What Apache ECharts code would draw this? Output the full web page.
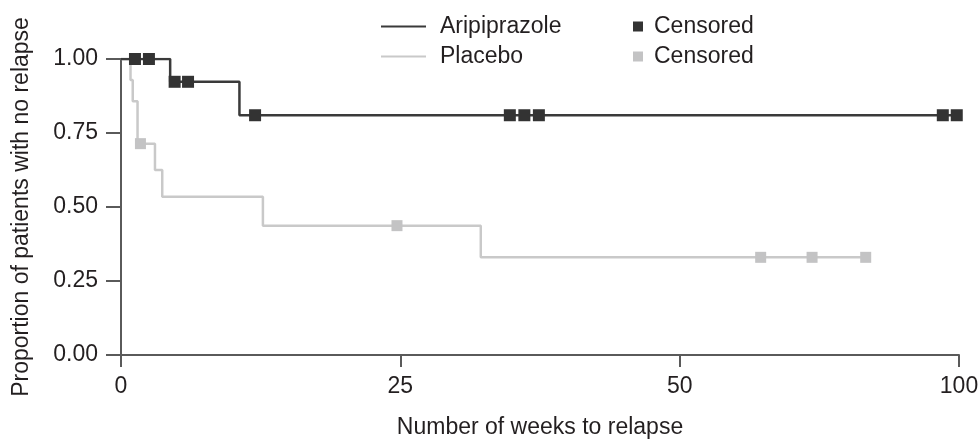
<!DOCTYPE html>
<html>
<head>
<meta charset="utf-8">
<script src="https://cdn.jsdelivr.net/npm/echarts@6/dist/echarts.min.js"></script>
<style>
  html, body { margin: 0; padding: 0; background: #fff; }
  #chart { width: 978px; height: 439px; }
</style>
</head>
<body>
<div id="chart"></div>
<script>
// Kaplan-Meier steps, time in weeks
var ariTimes = [0, 4.4, 10.6, 100];
var ariSurv = [1, 0.923, 0.81, 0.81];
var ariCensTimes = [1.25, 2.5, 4.8, 6.0, 12.0, 34.8, 36.1, 37.4, 97.1, 99.6];
var ariCensSurv = [1, 1, 0.923, 0.923, 0.81, 0.81, 0.81, 0.81, 0.81, 0.81];

var plaTimes = [0, 0.85, 1.05, 1.48, 3.04, 3.69, 12.7, 32.2, 83.3];
var plaSurv = [1, 0.929, 0.857, 0.714, 0.625, 0.535, 0.437, 0.33, 0.33];
var plaCensTimes = [1.74, 24.7, 64.5, 73.7, 83.3];
var plaCensSurv = [0.714, 0.437, 0.33, 0.33, 0.33];

var xTickLabels = ['0', '25', '50', '100'];
var yTickLabels = ['0.00', '0.25', '0.50', '0.75', '1.00'];

// the printed axis is compressed after week 50 (50 -> 100 takes the same room as 25 -> 50)
function toAxis(w) {
    return w <= 50 ? w : 50 + (w - 50) / 2;
}

function pairs(aX, aY) {
    var aRes = [];
    for (var i = 0; i < aX.length; i++) {
        aRes.push([toAxis(aX[i]), aY[i]]);
    }
    return aRes;
}

var sFont = '"Liberation Sans", Arial, Helvetica, sans-serif';
var nFont = 23;
var sText = '#231f20';
var sAxis = '#5a5a5a';
var sDark = '#3a3a3a';
var sLight = '#c9c9c9';

var oChart = echarts.init(document.getElementById('chart'), null, {renderer: 'canvas'});
oChart.setOption({
    animation: false,
    textStyle: {fontFamily: sFont},
    grid: {left: 121, right: 19, top: 59, bottom: 84, containLabel: false, outerBoundsMode: 'none'},
    legend: [
        {
            orient: 'vertical',
            left: 376,
            top: 10,
            itemWidth: 45,
            itemHeight: 14,
            itemGap: 7,
            textStyle: {fontSize: nFont, color: sText, fontFamily: sFont, lineHeight: 23, padding: [0, 0, 0, 9]},
            data: [
                {name: 'Aripiprazole', icon: 'path://M0,6 L45,6 L45,8 L0,8 Z', itemStyle: {color: sDark}},
                {name: 'Placebo', icon: 'path://M0,6 L45,6 L45,8 L0,8 Z', itemStyle: {color: sLight}}
            ]
        },
        {
            orient: 'vertical',
            left: 628,
            top: 10,
            itemWidth: 10,
            itemHeight: 10,
            itemGap: 7,
            formatter: function () { return 'Censored'; },
            textStyle: {fontSize: nFont, color: sText, fontFamily: sFont, lineHeight: 23, padding: [0, 0, 0, 6]},
            data: [
                {name: 'Aripiprazole censored', icon: 'rect'},
                {name: 'Placebo censored', icon: 'rect'}
            ]
        }
    ],
    xAxis: {
        type: 'value',
        min: 0,
        max: 75,
        interval: 25,
        name: 'Number of weeks to relapse',
        nameLocation: 'middle',
        nameGap: 61,
        nameTextStyle: {fontSize: nFont, color: sText, fontFamily: sFont},
        axisLine: {show: true, onZero: false, lineStyle: {color: sAxis, width: 2}},
        axisTick: {show: true, length: 12, lineStyle: {color: sAxis, width: 2}},
        axisLabel: {
            fontSize: nFont, color: sText, margin: 20, fontFamily: sFont,
            formatter: function (v) { return xTickLabels[Math.round(v / 25)]; }
        },
        splitLine: {show: false}
    },
    yAxis: {
        type: 'value',
        min: 0,
        max: 1,
        interval: 0.25,
        name: 'Proportion of patients with no relapse',
        nameLocation: 'middle',
        nameGap: 88,
        nameTextStyle: {fontSize: nFont, color: sText, fontFamily: sFont},
        axisLine: {show: true, lineStyle: {color: sAxis, width: 2}},
        axisTick: {show: true, length: 15, lineStyle: {color: sAxis, width: 2}},
        axisLabel: {
            fontSize: nFont, color: sText, margin: 23, fontFamily: sFont,
            formatter: function (v) { return yTickLabels[Math.round(v / 0.25)]; }
        },
        splitLine: {show: false}
    },
    series: [
        {
            name: 'Placebo',
            type: 'line',
            step: 'end',
            symbol: 'none',
            lineStyle: {color: sLight, width: 2.5},
            itemStyle: {color: sLight},
            data: pairs(plaTimes, plaSurv),
            z: 2
        },
        {
            name: 'Aripiprazole',
            type: 'line',
            step: 'end',
            symbol: 'none',
            lineStyle: {color: sDark, width: 2.5},
            itemStyle: {color: sDark},
            data: pairs(ariTimes, ariSurv),
            z: 3
        },
        {
            name: 'Placebo censored',
            type: 'scatter',
            symbol: 'rect',
            symbolSize: 11,
            itemStyle: {color: '#c3c3c4', opacity: 1},
            data: pairs(plaCensTimes, plaCensSurv),
            z: 4
        },
        {
            name: 'Aripiprazole censored',
            type: 'scatter',
            symbol: 'rect',
            symbolSize: 12,
            itemStyle: {color: '#333333', opacity: 1},
            data: pairs(ariCensTimes, ariCensSurv),
            z: 5
        }
    ]
});
</script>
</body>
</html>
